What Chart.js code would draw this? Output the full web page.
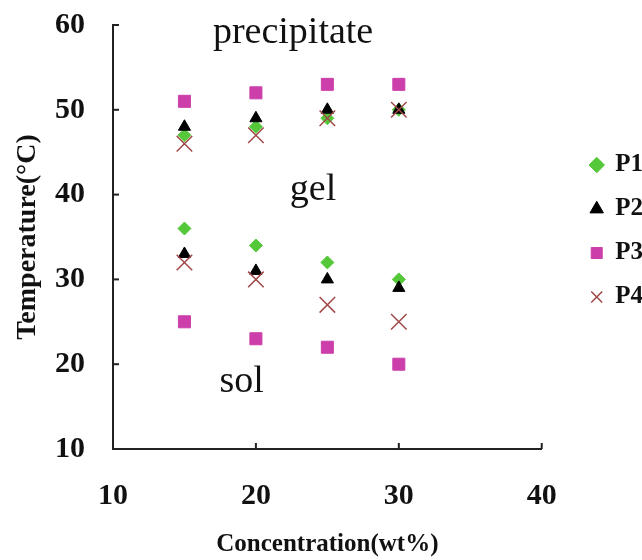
<!DOCTYPE html>
<html lang="en">
<head>
    <meta charset="UTF-8">
    <title>Phase diagram</title>
    <script src="https://cdn.jsdelivr.net/npm/chart.js"></script>
    <style>
        html, body { margin: 0; padding: 0; background: #fff; overflow: hidden; }
        #wrap { width: 642px; height: 560px; }
    </style>
</head>
<body>
<div id="wrap"><canvas id="chart"></canvas></div>

<script>
    // concentration (wt%) and transition temperatures (°C)
    const concentrations = [15, 20, 25, 30];
    const p1Upper = [47, 48, 49, 50];
    const p1Lower = [36, 34, 32, 30];
    const p2Upper = [48, 49, 50, 50];
    const p2Lower = [33, 31, 30, 29];
    const p3Upper = [51, 52, 53, 53];
    const p3Lower = [25, 23, 22, 20];
    const p4Upper = [46, 47, 49, 50];
    const p4Lower = [32, 30, 27, 25];
    const seriesNames = ['P1', 'P2', 'P3', 'P4'];
    const xTicks = [10, 20, 30, 40];
    const yTicks = [10, 20, 30, 40, 50, 60];
    const regionNames = ['precipitate', 'gel', 'sol'];

    const serif = '"Liberation Serif", "Times New Roman", serif';

    function toPoints(upper, lower) {
        const pts = [];
        concentrations.forEach((c, i) => {
            pts.push({x: c, y: upper[i]});
            pts.push({x: c, y: lower[i]});
        });
        return pts;
    }

    // ticks point inward like the original plot
    const innerTicks = {
        id: 'innerTicks',
        afterDraw(chart) {
            const {ctx, chartArea: a, scales: {x, y}} = chart;
            ctx.save();
            ctx.strokeStyle = '#222';
            ctx.lineWidth = 2;
            xTicks.forEach(v => {
                const px = x.getPixelForValue(v);
                ctx.beginPath();
                ctx.moveTo(px, a.bottom);
                ctx.lineTo(px, a.bottom - 6);
                ctx.stroke();
            });
            yTicks.forEach(v => {
                const py = y.getPixelForValue(v);
                ctx.beginPath();
                ctx.moveTo(a.left, py);
                ctx.lineTo(a.left + 6, py);
                ctx.stroke();
            });
            ctx.restore();
        }
    };

    // region names written inside the plot
    const regionText = {
        id: 'regionText',
        afterDatasetsDraw(chart) {
            const {ctx, scales: {x, y}} = chart;
            const spots = [[22.6, 59.1], [24.0, 40.5], [19.0, 17.9]];
            ctx.save();
            ctx.font = '38px ' + serif;
            ctx.fillStyle = '#111';
            ctx.textAlign = 'center';
            ctx.textBaseline = 'middle';
            regionNames.forEach((t, i) => {
                ctx.fillText(t, x.getPixelForValue(spots[i][0]), y.getPixelForValue(spots[i][1]));
            });
            ctx.restore();
        }
    };

    // push the legend over to the right edge
    const legendShift = {
        id: 'legendShift',
        afterLayout(chart) {
            const l = chart.legend;
            l.left += 30; l.right += 30;
            l.top -= 6; l.bottom -= 6;
        }
    };

    new Chart(document.getElementById('chart'), {
        type: 'scatter',
        data: {
            datasets: [
                {label: seriesNames[0], data: toPoints(p1Upper, p1Lower), pointStyle: 'rectRot', pointRadius: 6.5,
                    backgroundColor: '#55c83a', borderColor: '#55c83a', order: 4},
                {label: seriesNames[1], data: toPoints(p2Upper, p2Lower), pointStyle: 'triangle', pointRadius: 7,
                    backgroundColor: '#000', borderColor: '#000', order: 3},
                {label: seriesNames[2], data: toPoints(p3Upper, p3Lower), pointStyle: 'rect', pointRadius: 8.5,
                    backgroundColor: '#cc3faa', borderColor: '#cc3faa', order: 2},
                {label: seriesNames[3], data: toPoints(p4Upper, p4Lower), pointStyle: 'crossRot', pointRadius: 11,
                    backgroundColor: '#a04848', borderColor: '#a04848', pointBorderWidth: 1.5, order: 1}
            ]
        },
        options: {
            responsive: true,
            maintainAspectRatio: false,
            animation: false,
            layout: {padding: {top: 25, right: 19, bottom: 0, left: 0}},
            plugins: {
                tooltip: {enabled: false},
                legend: {
                    position: 'right',
                    fullSize: false,
                    labels: {
                        usePointStyle: true,
                        boxWidth: 12,
                        boxHeight: 11,
                        padding: 19,
                        color: '#111',
                        font: {family: serif, size: 25, weight: 'bold'},
                        sort: (a, b) => a.datasetIndex - b.datasetIndex
                    }
                }
            },
            scales: {
                x: {
                    min: 10, max: 40,
                    afterBuildTicks(s) { s.ticks = xTicks.map(v => ({value: v})); },
                    afterFit(s) { s.height = 111; s.paddingLeft = 0; s.paddingRight = 0; },
                    grid: {display: false},
                    border: {display: true, color: '#222', width: 2},
                    ticks: {color: '#111', padding: 21, font: {family: serif, size: 30, weight: 'bold'}},
                    title: {display: true, text: 'Concentration(wt%)', color: '#111', padding: {top: 0, bottom: 0},
                        font: {family: serif, size: 25, weight: 'bold'}}
                },
                y: {
                    min: 10, max: 60,
                    afterBuildTicks(s) { s.ticks = yTicks.map(v => ({value: v})); },
                    afterFit(s) { s.width = 113; s.paddingTop = 0; s.paddingBottom = 0; },
                    grid: {display: false},
                    border: {display: true, color: '#222', width: 2},
                    ticks: {color: '#111', padding: 20, font: {family: serif, size: 30, weight: 'bold'}},
                    title: {display: true, text: 'Temperature(°C)', color: '#111', padding: {top: 11, bottom: 0},
                        font: {family: serif, size: 28, weight: 'bold'}}
                }
            }
        },
        plugins: [innerTicks, regionText, legendShift]
    });
</script>
</body>
</html>
